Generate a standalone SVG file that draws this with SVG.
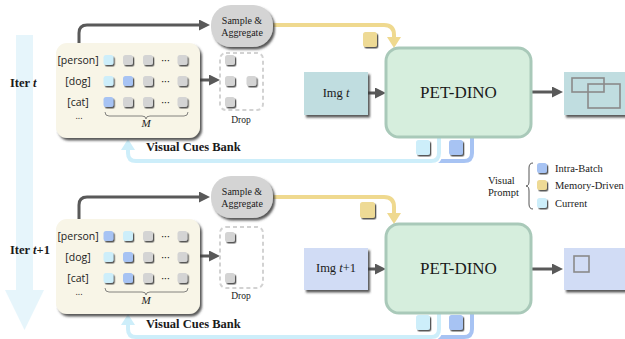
<svg xmlns="http://www.w3.org/2000/svg" width="625" height="339" viewBox="0 0 625 339">
  <defs>
    <filter id="boxShadow" x="-10%" y="-10%" width="130%" height="130%">
      <feDropShadow dx="2" dy="2.5" stdDeviation="0.8" flood-color="#3a3a3a" flood-opacity="0.85"/>
    </filter>
    <filter id="chipShadow" x="-30%" y="-30%" width="170%" height="170%">
      <feDropShadow dx="1.3" dy="1.5" stdDeviation="0.4" flood-color="#444" flood-opacity="0.9"/>
    </filter>
    <marker id="arrDark" markerUnits="userSpaceOnUse" markerWidth="12" markerHeight="12" refX="3" refY="5.5" orient="auto">
      <path d="M0,0 L11,5.5 L0,11 z" fill="#595959"/>
    </marker>
    <marker id="arrYellow" markerUnits="userSpaceOnUse" markerWidth="12" markerHeight="15" refX="3" refY="7" orient="auto">
      <path d="M0,0 L11,7 L0,14 z" fill="#efd98f"/>
    </marker>
    <marker id="arrCurrent" markerUnits="userSpaceOnUse" markerWidth="12" markerHeight="15" refX="3" refY="7" orient="auto">
      <path d="M0,0 L11,7 L0,14 z" fill="#cdeefa"/>
    </marker>
  </defs>
  <style>
    .serif{font-family:"Liberation Serif","Times New Roman",serif;fill:#1a1a1a}
    .sans{font-family:"Open Sans","Liberation Sans",sans-serif;fill:#222;font-size:10.5px}
    .more{font-size:9px}
    .bold{font-weight:bold}
    .it{font-style:italic}
    .bank{fill:#f8f5e7}
    .chip{rx:2.5px;filter:url(#chipShadow)}
    .gray{fill:#d4d4d4}
    .cur{fill:#cdeefa}
    .intra{fill:#a7c3f3}
    .mem{fill:#eeda95}
    .drop{fill:none;stroke:#d2d2d2;stroke-width:2;stroke-dasharray:4 3}
    .sample{fill:#d4d4d4;filter:url(#boxShadow)}
    .pet{fill:#d6eedd;stroke:#a9c9b9;stroke-width:3}
    .imgA{fill:#c0dde0;filter:url(#boxShadow)}
    .imgB{fill:#d1dcf5;filter:url(#boxShadow)}
    .dark{fill:none;stroke:#595959;stroke-width:3;marker-end:url(#arrDark)}
    .yellow{fill:none;stroke:#efd98f;stroke-width:4;marker-end:url(#arrYellow)}
    .loopCur{fill:none;stroke:#cdeefa;stroke-width:4}
    .loopIntra{fill:none;stroke:#a7c3f3;stroke-width:4}
    .casing{fill:none;stroke:#fff;stroke-width:7}
    .brace{fill:none;stroke:#666;stroke-width:0.8}
    .box{fill:none;stroke:#8a8a8a;stroke-width:1.6}
  </style>

  <!-- iteration direction -->
  <g id="timeline">
    <rect x="16" y="35" width="17" height="255" fill="#cdebf8" fill-opacity="0.5"/>
    <polygon points="5,290 44,290 24.5,330" fill="#cdebf8" fill-opacity="0.5"/>
    <text class="serif bold" x="10" y="87" font-size="12.5">Iter <tspan class="it">t</tspan></text>
    <text class="serif bold" x="10" y="254" font-size="12.5">Iter <tspan class="it">t</tspan>+1</text>
  </g>

  <!-- connectors -->
  <g id="connectors">
    <!-- iteration t -->
    <path class="dark" d="M79,43 V33 Q79,25 87,25 H202"/>
    <path class="yellow" d="M273,25 H384 Q394,25 394,35 V40"/>
    <path class="dark" d="M200,80 H212"/>
    <path class="dark" d="M368,93 H378"/>
    <path class="dark" d="M531,92 H555"/>
    <path class="loopIntra" d="M472,137 V153 Q472,161 464,161 H432"/>
    <path class="casing" d="M439,137 V153 Q439,161 431,161"/>
    <path class="loopCur" d="M439,137 V153 Q439,161 431,161 H136 Q128,161 128,153 V147" marker-end="url(#arrCurrent)"/>
    <!-- iteration t+1 -->
    <path class="dark" d="M79,219 V205 Q79,197 87,197 H202"/>
    <path class="yellow" d="M273,197 H384 Q394,197 394,207 V216"/>
    <path class="dark" d="M200,256 H212"/>
    <path class="dark" d="M368,269 H378"/>
    <path class="dark" d="M531,269 H555"/>
    <path class="loopIntra" d="M472,313 V329 Q472,337 464,337 H432"/>
    <path class="casing" d="M439,313 V329 Q439,337 431,337"/>
    <path class="loopCur" d="M439,313 V329 Q439,337 431,337 H136 Q128,337 128,329 V322" marker-end="url(#arrCurrent)"/>
  </g>

  <!-- prompt chips riding on the connectors -->
  <g id="prompts-t">
    <rect class="chip mem" x="363" y="32" width="14" height="15"/>
    <rect class="chip cur" x="416" y="140" width="14" height="15"/>
    <rect class="chip intra" x="449" y="140" width="14" height="15"/>
  </g>
  <g id="prompts-t1">
    <rect class="chip mem" x="360" y="202" width="15" height="16"/>
    <rect class="chip cur" x="416" y="315" width="14" height="15"/>
    <rect class="chip intra" x="449" y="315" width="14" height="15"/>
  </g>

  <!-- iteration t -->
  <g id="bank-t">
    <rect class="bank" x="56" y="43" width="144" height="95" rx="11" filter="url(#boxShadow)"/>
    <text class="sans" x="78" y="64" text-anchor="middle">[person]</text>
    <text class="sans" x="78" y="85" text-anchor="middle">[dog]</text>
    <text class="sans" x="78" y="106" text-anchor="middle">[cat]</text>
    <text class="sans more" x="79" y="119" text-anchor="middle">...</text>
    <rect class="chip cur" x="103.5" y="55" width="10" height="10"/>
    <rect class="chip gray" x="123" y="55" width="10" height="10"/>
    <rect class="chip gray" x="143" y="55" width="10" height="10"/>
    <text class="sans" x="165.5" y="63.5" text-anchor="middle">···</text>
    <rect class="chip gray" x="177.5" y="55" width="10" height="10"/>
    <rect class="chip cur" x="103.5" y="76" width="10" height="10"/>
    <rect class="chip intra" x="123" y="76" width="10" height="10"/>
    <rect class="chip gray" x="143" y="76" width="10" height="10"/>
    <text class="sans" x="165.5" y="84.5" text-anchor="middle">···</text>
    <rect class="chip gray" x="177.5" y="76" width="10" height="10"/>
    <rect class="chip intra" x="103.5" y="97" width="10" height="10"/>
    <rect class="chip gray" x="123" y="97" width="10" height="10"/>
    <rect class="chip gray" x="143" y="97" width="10" height="10"/>
    <text class="sans" x="165.5" y="105.5" text-anchor="middle">···</text>
    <rect class="chip gray" x="177.5" y="97" width="10" height="10"/>
    <path class="brace" d="M105,112 Q105,116 109,116 H142 Q146,116 146,119 Q146,116 150,116 H184 Q188,116 188,112"/>
    <text class="serif it" x="146" y="127" font-size="11" text-anchor="middle">M</text>
    <text class="serif bold" x="146" y="151" font-size="12.5">Visual Cues Bank</text>
  </g>
  <g id="drop-t">
    <rect class="drop" x="220" y="53" width="43" height="57" rx="6"/>
    <rect class="chip gray" x="225" y="55" width="10" height="10"/>
    <rect class="chip gray" x="225" y="76" width="10" height="10"/>
    <rect class="chip gray" x="246.5" y="76" width="10" height="10"/>
    <rect class="chip gray" x="225" y="97" width="10" height="10"/>
    <text class="serif" x="241" y="123" font-size="9.5" text-anchor="middle">Drop</text>
  </g>
  <g id="sample-t">
    <rect class="sample" x="211" y="5" width="62" height="42" rx="20"/>
    <text class="serif" x="242" y="23.5" font-size="10" text-anchor="middle">Sample &amp;</text>
    <text class="serif" x="242" y="35.5" font-size="10" text-anchor="middle">Aggregate</text>
  </g>
  <g id="img-t">
    <rect class="imgA" x="304" y="72" width="64" height="43"/>
    <text class="serif" x="336" y="97" font-size="12.5" text-anchor="middle">Img <tspan class="it">t</tspan></text>
  </g>
  <g id="pet-t">
    <rect class="pet" x="386" y="48" width="145" height="89" rx="13"/>
    <text class="serif" x="458.5" y="98" font-size="17" text-anchor="middle">PET-DINO</text>
  </g>
  <g id="out-t">
    <rect class="imgA" x="564" y="72" width="70" height="43"/>
    <rect class="box" x="572" y="78" width="32" height="14"/>
    <rect class="box" x="588" y="84" width="32" height="24"/>
  </g>

  <!-- iteration t+1 -->
  <g id="bank-t1">
    <rect class="bank" x="56" y="219" width="144" height="95" rx="11" filter="url(#boxShadow)"/>
    <text class="sans" x="78" y="240" text-anchor="middle">[person]</text>
    <text class="sans" x="78" y="261" text-anchor="middle">[dog]</text>
    <text class="sans" x="78" y="282" text-anchor="middle">[cat]</text>
    <text class="sans more" x="79" y="295" text-anchor="middle">...</text>
    <rect class="chip intra" x="103.5" y="231" width="10" height="10"/>
    <rect class="chip cur" x="123" y="231" width="10" height="10"/>
    <rect class="chip gray" x="143" y="231" width="10" height="10"/>
    <text class="sans" x="165.5" y="239.5" text-anchor="middle">···</text>
    <rect class="chip gray" x="177.5" y="231" width="10" height="10"/>
    <rect class="chip cur" x="103.5" y="252" width="10" height="10"/>
    <rect class="chip intra" x="123" y="252" width="10" height="10"/>
    <rect class="chip gray" x="143" y="252" width="10" height="10"/>
    <text class="sans" x="165.5" y="260.5" text-anchor="middle">···</text>
    <rect class="chip gray" x="177.5" y="252" width="10" height="10"/>
    <rect class="chip cur" x="103.5" y="273" width="10" height="10"/>
    <rect class="chip intra" x="123" y="273" width="10" height="10"/>
    <rect class="chip gray" x="143" y="273" width="10" height="10"/>
    <text class="sans" x="165.5" y="281.5" text-anchor="middle">···</text>
    <rect class="chip gray" x="177.5" y="273" width="10" height="10"/>
    <path class="brace" d="M105,288 Q105,292 109,292 H142 Q146,292 146,295 Q146,292 150,292 H184 Q188,292 188,288"/>
    <text class="serif it" x="146" y="304" font-size="11" text-anchor="middle">M</text>
    <text class="serif bold" x="146" y="328" font-size="12.5">Visual Cues Bank</text>
  </g>
  <g id="drop-t1">
    <rect class="drop" x="220" y="227" width="43" height="61" rx="6"/>
    <rect class="chip gray" x="225" y="232" width="10" height="10"/>
    <rect class="chip gray" x="225" y="273" width="10" height="10"/>
    <text class="serif" x="241" y="299" font-size="9.5" text-anchor="middle">Drop</text>
  </g>
  <g id="sample-t1">
    <rect class="sample" x="211" y="176" width="62" height="42" rx="20"/>
    <text class="serif" x="242" y="194.5" font-size="10" text-anchor="middle">Sample &amp;</text>
    <text class="serif" x="242" y="206.5" font-size="10" text-anchor="middle">Aggregate</text>
  </g>
  <g id="img-t1">
    <rect class="imgB" x="304" y="248" width="64" height="42"/>
    <text class="serif" x="336" y="272" font-size="12.5" text-anchor="middle">Img <tspan class="it">t</tspan>+1</text>
  </g>
  <g id="pet-t1">
    <rect class="pet" x="386" y="224" width="145" height="89" rx="13"/>
    <text class="serif" x="458.5" y="274" font-size="17" text-anchor="middle">PET-DINO</text>
  </g>
  <g id="out-t1">
    <rect class="imgB" x="564" y="248" width="70" height="42"/>
    <rect class="box" x="574" y="256" width="15" height="16"/>
  </g>

  <!-- legend -->
  <g id="legend">
    <text class="serif" x="488" y="184" font-size="10.5">Visual</text>
    <text class="serif" x="488" y="196" font-size="10.5">Prompt</text>
    <path d="M533,163 Q529,163 529,168 V181 Q529,186 526,186 Q529,186 529,191 V204 Q529,209 533,209" fill="none" stroke="#555" stroke-width="1"/>
    <rect class="chip intra" x="537" y="163" width="10" height="10"/>
    <rect class="chip mem" x="537" y="180" width="10" height="10"/>
    <rect class="chip cur" x="537" y="198" width="10" height="10"/>
    <text class="serif" x="555" y="172" font-size="10.5">Intra-Batch</text>
    <text class="serif" x="555" y="189" font-size="10.5">Memory-Driven</text>
    <text class="serif" x="555" y="207" font-size="10.5">Current</text>
  </g>
</svg>
